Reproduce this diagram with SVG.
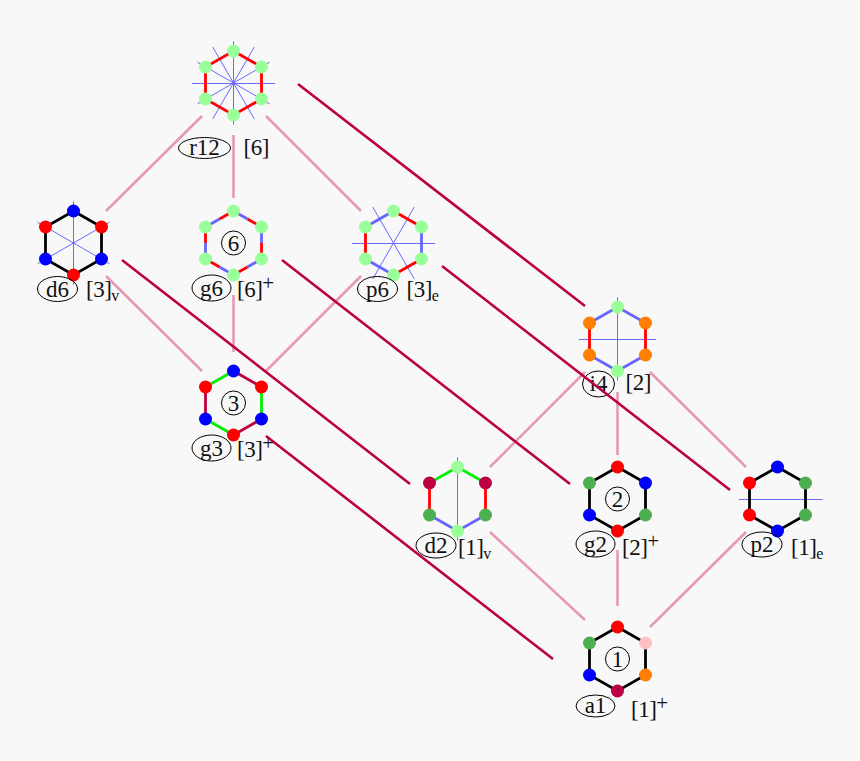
<svg xmlns="http://www.w3.org/2000/svg" width="860" height="761" viewBox="0 0 860 761">
<style>
text{font-family:"Liberation Serif","Times New Roman",serif;font-size:23px;fill:#111}
.m{text-anchor:middle}
.t{letter-spacing:-.5px}
.s{font-size:16px;letter-spacing:0}
.p{font-size:21px;letter-spacing:0}
ellipse,.c{fill:none;stroke:#000;stroke-width:1}
.k,.r,.b,.g,.x{fill:none;stroke-width:2.8}
.k{stroke:#000}.r{stroke:#f00}.b{stroke:#6666ff}.g{stroke:#0e0}.x{stroke:#bb0044}
.y{fill:none;stroke:#6a6aff;stroke-width:1}
.dl{fill:#99ff99}.dr{fill:#f00}.db{fill:#00f}.do{fill:#ff8000}.dc{fill:#bb0044}.dg{fill:#4caf50}.dp{fill:#ffc0c0}
.pale{stroke:#e699b3;stroke-width:2.6;fill:none}
.dark{stroke:#bb0044;stroke-width:2.6;fill:none}
</style>
<defs>
<circle id="d" r="6.5"/>
<path id="hex" d="M0-32L28-16V16L0 32L-28 16V-16Z"/>
</defs>
<rect width="860" height="761" fill="#f8f8f8"/>

<g id="r12" transform="translate(233.5 83)">
<path class="y" d="M-41.6 .5H41.6M0-41.6V41.6M-36-20.8L36 20.8M-36 20.8L36-20.8M-20.8-36L20.8 36M-20.8 36L20.8-36"/>
<use href="#hex" class="r"/>
<g class="dl"><use href="#d" y="-32"/><use href="#d" x="28" y="-16"/><use href="#d" x="28" y="16"/><use href="#d" y="32"/><use href="#d" x="-28" y="16"/><use href="#d" x="-28" y="-16"/></g>
<ellipse cx="-29" cy="65" rx="26" ry="10.5"/>
<text class="m" x="-29" y="72">r12</text>
<text class="t" x="10" y="72">[6]</text>
</g>

<g id="d6" transform="translate(73.5 243)">
<path class="y" d="M0-41.6V41.6M-36-20.8L36 20.8M-36 20.8L36-20.8"/>
<use href="#hex" class="k"/>
<g><use href="#d" y="-32" class="db"/><use href="#d" x="28" y="-16" class="dr"/><use href="#d" x="28" y="16" class="db"/><use href="#d" y="32" class="dr"/><use href="#d" x="-28" y="16" class="db"/><use href="#d" x="-28" y="-16" class="dr"/></g>
<ellipse cx="-16" cy="46" rx="20" ry="12.5"/>
<text class="m" x="-16" y="54">d6</text>
<text class="t" x="12.500" y="54">[3]<tspan class="s" dy="4">v</tspan></text>
</g>

<g id="g6" transform="translate(233.5 243)">
<path class="b" d="M0-32L14-24M28-16V0M28 16L14 24M0 32L-14 24M-28 16V0M-28-16L-14-24"/>
<path class="r" d="M14-24L28-16M28 0V16M14 24L0 32M-14 24L-28 16M-28 0V-16M-14-24L0-32"/>
<g class="dl"><use href="#d" y="-32"/><use href="#d" x="28" y="-16"/><use href="#d" x="28" y="16"/><use href="#d" y="32"/><use href="#d" x="-28" y="16"/><use href="#d" x="-28" y="-16"/></g>
<circle class="c" r="12"/>
<text class="m" y="7.500">6</text>
<ellipse cx="-22" cy="45" rx="19.500" ry="13"/>
<text class="m" x="-22" y="53">g6</text>
<text class="t" x="3.500" y="54">[6]<tspan class="p" dy="-7">+</tspan></text>
</g>

<g id="p6" transform="translate(393.500 243)">
<path class="y" d="M-41.600 .5H41.600M-20.800-36L20.800 36M-20.800 36L20.800-36"/>
<path class="r" d="M0-32L28-16M28 16L0 32M-28 16V-16"/>
<path class="b" d="M28-16V16M0 32L-28 16M-28-16L0-32"/>
<g class="dl"><use href="#d" y="-32"/><use href="#d" x="28" y="-16"/><use href="#d" x="28" y="16"/><use href="#d" y="32"/><use href="#d" x="-28" y="16"/><use href="#d" x="-28" y="-16"/></g>
<ellipse cx="-16" cy="46" rx="20" ry="12.500"/>
<text class="m" x="-16" y="54">p6</text>
<text class="t" x="13" y="54">[3]<tspan class="s" dy="4">e</tspan></text>
</g>

<g id="g3" transform="translate(233.500 403)">
<path class="g" d="M-28-16L0-32M28-16V16M0 32L-28 16"/>
<path class="x" d="M0-32L28-16M28 16L0 32M-28 16V-16"/>
<g><use href="#d" y="-32" class="db"/><use href="#d" x="28" y="-16" class="dr"/><use href="#d" x="28" y="16" class="db"/><use href="#d" y="32" class="dr"/><use href="#d" x="-28" y="16" class="db"/><use href="#d" x="-28" y="-16" class="dr"/></g>
<circle class="c" r="12"/>
<text class="m" y="7.500">3</text>
<ellipse cx="-22" cy="45" rx="19.500" ry="13"/>
<text class="m" x="-22" y="53">g3</text>
<text class="t" x="3.500" y="54">[3]<tspan class="p" dy="-7">+</tspan></text>
</g>

<g id="i4" transform="translate(617.500 339)">
<path class="y" d="M-38.500 .5H38.500M0-41.600V41.600"/>
<path class="b" d="M-28-16L0-32L28-16M-28 16L0 32L28 16"/>
<path class="r" d="M-28-16V16M28-16V16"/>
<g><use href="#d" y="-32" class="dl"/><use href="#d" x="28" y="-16" class="do"/><use href="#d" x="28" y="16" class="do"/><use href="#d" y="32" class="dl"/><use href="#d" x="-28" y="16" class="do"/><use href="#d" x="-28" y="-16" class="do"/></g>
<ellipse cx="-19" cy="45" rx="16" ry="13"/>
<text class="m" x="-19" y="52">i4</text>
<text class="t" x="8" y="51">[2]</text>
</g>

<g id="d2" transform="translate(457.500 499)">
<path class="y" d="M0-41.600V41.600"/>
<path class="g" d="M-28-16L0-32L28-16"/>
<path class="r" d="M-28-16V16M28-16V16"/>
<path class="b" d="M-28 16L0 32L28 16"/>
<g><use href="#d" y="-32" class="dl"/><use href="#d" x="28" y="-16" class="dc"/><use href="#d" x="28" y="16" class="dg"/><use href="#d" y="32" class="dl"/><use href="#d" x="-28" y="16" class="dg"/><use href="#d" x="-28" y="-16" class="dc"/></g>
<ellipse cx="-21.500" cy="46.500" rx="20" ry="12.500"/>
<text class="m" x="-21.500" y="54">d2</text>
<text class="t" x="0.500" y="56">[1]<tspan class="s" dy="4">v</tspan></text>
</g>

<g id="g2" transform="translate(617.500 499)">
<use href="#hex" class="k"/>
<g><use href="#d" y="-32" class="dr"/><use href="#d" x="28" y="-16" class="db"/><use href="#d" x="28" y="16" class="dg"/><use href="#d" y="32" class="dr"/><use href="#d" x="-28" y="16" class="db"/><use href="#d" x="-28" y="-16" class="dg"/></g>
<circle class="c" r="12"/>
<text class="m" y="7.500">2</text>
<ellipse cx="-22" cy="45" rx="19.500" ry="13"/>
<text class="m" x="-22" y="53">g2</text>
<text class="t" x="4.500" y="56">[2]<tspan class="p" dy="-7">+</tspan></text>
</g>

<g id="p2" transform="translate(777.500 499)">
<path class="y" d="M-38.500 .5H45"/>
<use href="#hex" class="k"/>
<g><use href="#d" y="-32" class="db"/><use href="#d" x="28" y="-16" class="dg"/><use href="#d" x="28" y="16" class="dg"/><use href="#d" y="32" class="db"/><use href="#d" x="-28" y="16" class="dr"/><use href="#d" x="-28" y="-16" class="dr"/></g>
<ellipse cx="-15.500" cy="45.500" rx="20" ry="12.500"/>
<text class="m" x="-15.500" y="53">p2</text>
<text class="t" x="13.500" y="56">[1]<tspan class="s" dy="4">e</tspan></text>
</g>

<g id="a1" transform="translate(617.500 659)">
<use href="#hex" class="k"/>
<g><use href="#d" y="-32" class="dr"/><use href="#d" x="28" y="-16" class="dp"/><use href="#d" x="28" y="16" class="do"/><use href="#d" y="32" class="dc"/><use href="#d" x="-28" y="16" class="db"/><use href="#d" x="-28" y="-16" class="dg"/></g>
<circle class="c" r="12"/>
<text class="m" y="7.500">1</text>
<ellipse cx="-22" cy="47" rx="19.500" ry="11"/>
<text class="m" x="-22" y="54">a1</text>
<text class="t" x="13.500" y="58">[1]<tspan class="p" dy="-7">+</tspan></text>
</g>

<g id="connectors">
<path class="pale" d="M202 116L106 211M233.500 135V198M266 116L361 211M106 276L202 371M233.500 295V352M361 276L266 371M585 372L490 467M617.500 392V455M650 372L746 467M490 532L585 620M617.500 550V606M746 532L650 627"/>
<path class="dark" d="M298 84L585 306M122 260L410 484M282 260L570 484M442 266L730 490M266 436L553 659"/>
</g>
</svg>
